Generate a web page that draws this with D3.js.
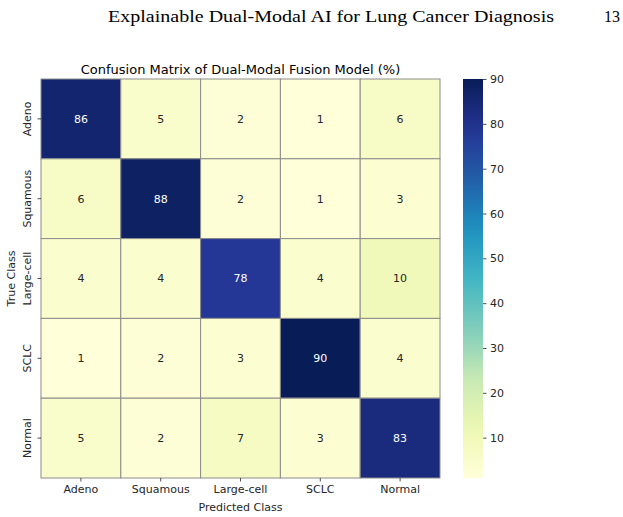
<!DOCTYPE html>
<html>
<head>
<meta charset="utf-8">
<script src="https://cdn.jsdelivr.net/npm/d3@7"></script>
<style>
  body { margin: 0; background: #fff; }
  text { font-family: "DejaVu Sans", sans-serif; fill: #262626; }
</style>
</head>
<body>
<div class="chart"></div>
<script>
// data
const classes = ["Adeno", "Squamous", "Large-cell", "SCLC", "Normal"];
const adenoRow    = [86, 5, 2, 1, 6];
const squamousRow = [6, 88, 2, 1, 3];
const largeRow    = [4, 4, 78, 4, 10];
const sclcRow     = [1, 2, 3, 90, 4];
const normalRow   = [5, 2, 7, 3, 83];
const cbTicks = [10, 20, 30, 40, 50, 60, 70, 80, 90];
const vmin = 1, vmax = 90;

const rows = [adenoRow, squamousRow, largeRow, sclcRow, normalRow];
const cells = [];
rows.forEach((r, i) => r.forEach((v, j) => cells.push({row: classes[i], col: classes[j], value: v})));

const W = 623, H = 517;
const margin = ({top: 79, left: 41});
const size = 399;
const fs = "11px";

const svg = d3.select(".chart").append("svg")
    .attr("width", W)
    .attr("height", H);

// page header (paper running head)
svg.append("text")
    .attr("x", 108).attr("y", 22)
    .attr("textLength", 446).attr("lengthAdjust", "spacingAndGlyphs")
    .style("font-family", "'Liberation Serif', 'DejaVu Serif', serif")
    .style("font-size", "17px")
    .style("fill", "#000")
    .text("Explainable Dual-Modal AI for Lung Cancer Diagnosis");
svg.append("text")
    .attr("x", 604).attr("y", 22)
    .attr("textLength", 16).attr("lengthAdjust", "spacingAndGlyphs")
    .style("font-family", "'Liberation Serif', 'DejaVu Serif', serif")
    .style("font-size", "17px")
    .style("fill", "#000")
    .text("13");

// matplotlib-style YlGnBu
const ylgnbu = ["#ffffd9","#edf8b1","#c7e9b4","#7fcdbb","#41b6c4","#1d91c0","#225ea8","#253494","#081d58"];
const color = d3.scaleLinear()
    .domain(d3.range(ylgnbu.length).map(i => vmin + i * (vmax - vmin) / (ylgnbu.length - 1)))
    .range(ylgnbu)
    .interpolate(d3.interpolateRgb)
    .clamp(true);

const g = svg.append("g")
    .attr("transform", `translate(${margin.left},${margin.top})`);

const x = d3.scaleBand().domain(classes).range([0, size]);
const y = d3.scaleBand().domain(classes).range([0, size]);

g.selectAll("rect.cell")
    .data(cells)
    .enter()
    .append("rect")
    .attr("class", "cell")
    .attr("x", d => x(d.col))
    .attr("y", d => y(d.row))
    .attr("width", x.bandwidth())
    .attr("height", y.bandwidth())
    .attr("fill", d => color(d.value))
    .attr("stroke", "#8c8c8c")
    .attr("stroke-width", 1);

g.selectAll("text.val")
    .data(cells)
    .enter()
    .append("text")
    .attr("class", "val")
    .attr("x", d => x(d.col) + x.bandwidth() / 2)
    .attr("y", d => y(d.row) + y.bandwidth() / 2)
    .attr("text-anchor", "middle")
    .attr("dy", "0.35em")
    .style("font-size", fs)
    .style("fill", d => d.value > 50 ? "#ffffff" : "#262626")
    .text(d => d.value);

// axes
const xAxis = d3.axisBottom(x).tickSize(3.5).tickPadding(4);
const yAxis = d3.axisLeft(y).tickSize(3.5).tickPadding(4);

const xg = g.append("g")
    .attr("transform", `translate(0,${size})`)
    .call(xAxis);
xg.select(".domain").remove();
xg.selectAll(".tick line").attr("stroke", "#262626").attr("stroke-width", 0.8);
xg.selectAll(".tick text").style("font-size", fs).attr("fill", "#262626").style("font-family", "DejaVu Sans");

const yg = g.append("g").call(yAxis);
yg.select(".domain").remove();
yg.selectAll(".tick line").attr("stroke", "#262626").attr("stroke-width", 0.8);
yg.selectAll(".tick text")
    .style("font-size", fs).attr("fill", "#262626").style("font-family", "DejaVu Sans")
    .attr("text-anchor", "middle")
    .attr("x", null).attr("dy", null)
    .attr("transform", "translate(-10,0) rotate(-90)");

// labels
svg.append("text")
    .attr("x", margin.left + size / 2).attr("y", 511)
    .attr("text-anchor", "middle")
    .style("font-size", fs)
    .text("Predicted Class");
svg.append("text")
    .attr("transform", `translate(15,${margin.top + size / 2}) rotate(-90)`)
    .attr("text-anchor", "middle")
    .style("font-size", fs)
    .text("True Class");
svg.append("text")
    .attr("x", margin.left + size / 2).attr("y", 73.5)
    .attr("text-anchor", "middle")
    .style("font-size", "13px")
    .style("fill", "#000")
    .text("Confusion Matrix of Dual-Modal Fusion Model (%)");

// colorbar
const cbX = 463, cbW = 20;
const cbScale = d3.scaleLinear().domain([vmin, vmax]).range([margin.top + size, margin.top]);
const defs = svg.append("defs");
const grad = defs.append("linearGradient")
    .attr("id", "cbgrad")
    .attr("x1", 0).attr("y1", 1).attr("x2", 0).attr("y2", 0);
d3.range(0, 1.0001, 0.05).forEach(t => {
    grad.append("stop")
        .attr("offset", t)
        .attr("stop-color", color(vmin + t * (vmax - vmin)));
});
svg.append("rect")
    .attr("x", cbX).attr("y", margin.top)
    .attr("width", cbW).attr("height", size)
    .attr("fill", "url(#cbgrad)");

const cbAxis = d3.axisRight(cbScale).tickValues(cbTicks).tickSize(3.5).tickPadding(3.5);
const cg = svg.append("g")
    .attr("transform", `translate(${cbX + cbW},0)`)
    .call(cbAxis);
cg.select(".domain").remove();
cg.selectAll(".tick line").attr("stroke", "#262626").attr("stroke-width", 0.8);
cg.selectAll(".tick text").style("font-size", fs).attr("fill", "#262626").style("font-family", "DejaVu Sans");
</script>
</body>
</html>
